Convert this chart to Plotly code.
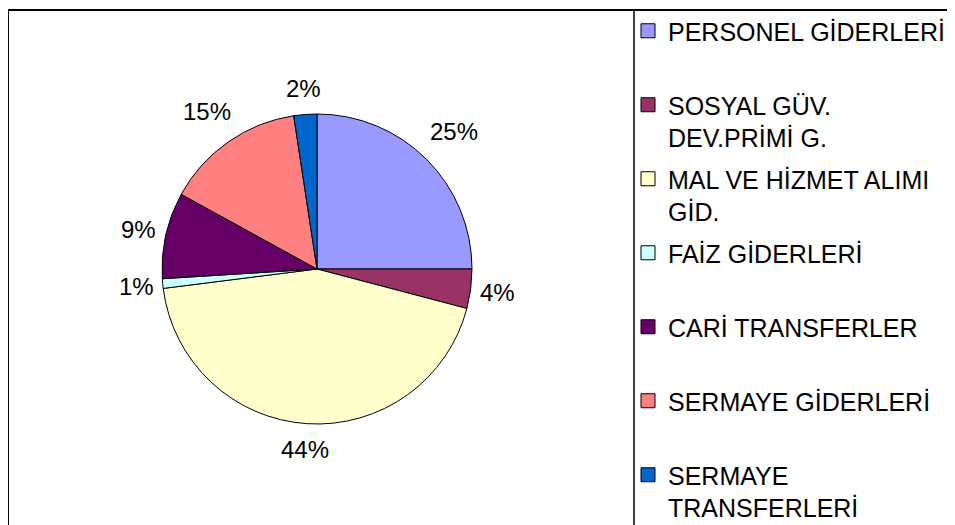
import math
import plotly.graph_objects as go

categories = [
    "PERSONEL GİDERLERİ",
    "SOSYAL GÜV.<br>DEV.PRİMİ G.",
    "MAL VE HİZMET ALIMI<br>GİD.",
    "FAİZ GİDERLERİ",
    "CARİ TRANSFERLER",
    "SERMAYE GİDERLERİ",
    "SERMAYE<br>TRANSFERLERİ",
]
shares = [25.0, 4.1, 43.9, 1.0, 9.0, 14.6, 2.4]
colors = ["#9999FF", "#993366", "#FFFFCC", "#CCFFFF", "#660066", "#FF8080", "#0066CC"]

# page has an 8px body margin; figure drawn in its own pixel frame
W, H = 947, 517
FONT = "Liberation Sans, Arial, sans-serif"
CX, CY, R = 309, 261, 155      # pie centre / radius (figure px)
LABEL_SIZE = 24

fig = go.Figure()
fig.add_trace(go.Pie(
    labels=categories,
    values=shares,
    sort=False,
    direction="clockwise",
    rotation=0,
    marker=dict(colors=colors, line=dict(color="#000000", width=1)),
    textinfo="none",
    showlegend=False,
    hoverinfo="label+percent",
    domain=dict(x=[(CX - R) / W, (CX + R) / W],
                y=[(H - CY - R) / H, (H - CY + R) / H]),
))

# percent labels placed outside each slice along its mid-angle
total = sum(shares)
annotations = []
cum = 0.0
for v in shares:
    mid = 2 * math.pi * (cum + v / 2) / total
    cum += v
    txt = f"{round(100 * v / total)}%"
    dist = R + 26 + 13 * math.sin(2 * mid) ** 2
    px = CX + dist * math.sin(mid)
    py = CY - dist * math.cos(mid)
    annotations.append(dict(
        x=px / W, y=1 - py / H, xref="paper", yref="paper",
        text=txt, showarrow=False,
        xanchor="center", yanchor="middle",
        font=dict(family=FONT, size=LABEL_SIZE, color="#000000"),
    ))

for i, (lab, col) in enumerate(zip(categories, colors)):
    name = lab if "<br>" in lab else lab + "<br> "
    fig.add_trace(go.Scatter(
        x=[None], y=[None], mode="markers", name=name,
        legendgroup=f"g{i}",
        marker=dict(symbol="square", size=14, color=col, line=dict(color="#000000", width=1)),
    ))

fig.update_layout(
    width=W, height=H,
    margin=dict(l=0, r=0, t=0, b=0),
    paper_bgcolor="#FFFFFF", plot_bgcolor="#FFFFFF",
    xaxis=dict(visible=False), yaxis=dict(visible=False),
    font=dict(family=FONT, size=25, color="#000000"),
    annotations=annotations,
    legend=dict(
        x=620 / W, y=1 - 1 / H, xanchor="left", yanchor="top",
        font=dict(family=FONT, size=25, color="#000000"),
        valign="top", traceorder="grouped", tracegroupgap=6,
        bgcolor="rgba(0,0,0,0)", borderwidth=0,
    ),
    shapes=[
        dict(type="rect", xref="paper", yref="paper",
             x0=0, x1=1.05, y0=-0.05, y1=1 - 2 / H,
             line=dict(color="#000000", width=2), fillcolor="rgba(0,0,0,0)"),
        dict(type="line", xref="paper", yref="paper",
             x0=626 / W, x1=626 / W, y0=-0.05, y1=1 - 2 / H,
             line=dict(color="#000000", width=1.5)),
    ],
)

fig.write_html("out.html")
